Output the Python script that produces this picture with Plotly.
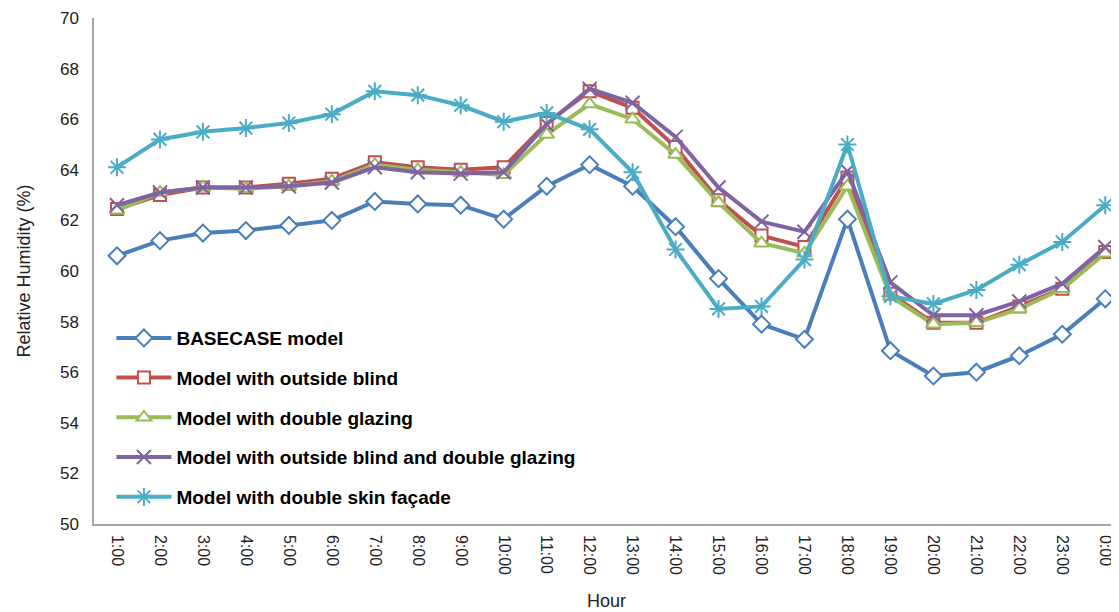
import plotly.graph_objects as go

hours = ["1:00", "2:00", "3:00", "4:00", "5:00", "6:00", "7:00", "8:00", "9:00", "10:00",
         "11:00", "12:00", "13:00", "14:00", "15:00", "16:00", "17:00", "18:00", "19:00",
         "20:00", "21:00", "22:00", "23:00", "0:00"]

basecase = [60.6, 61.2, 61.5, 61.6, 61.8, 62.0, 62.75, 62.65, 62.6, 62.05, 63.35, 64.2,
            63.35, 61.75, 59.7, 57.9, 57.3, 62.05, 56.85, 55.85, 56.0, 56.65, 57.5, 58.9]
outside_blind = [62.45, 63.0, 63.3, 63.3, 63.45, 63.65, 64.3, 64.1, 64.0, 64.1, 65.85, 67.1,
                 66.45, 64.9, 62.8, 61.4, 60.95, 63.7, 59.1, 57.95, 57.95, 58.6, 59.3, 60.75]
double_glazing = [62.4, 63.1, 63.3, 63.25, 63.35, 63.55, 64.2, 64.0, 63.9, 63.8, 65.4, 66.6,
                  66.0, 64.6, 62.7, 61.1, 60.7, 63.35, 59.0, 57.9, 57.95, 58.5, 59.3, 60.7]
blind_and_glazing = [62.6, 63.1, 63.3, 63.3, 63.35, 63.5, 64.1, 63.9, 63.85, 63.9, 65.8, 67.2,
                     66.65, 65.3, 63.3, 61.95, 61.55, 63.95, 59.55, 58.25, 58.25, 58.8, 59.5, 60.95]
double_skin = [64.1, 65.2, 65.5, 65.65, 65.85, 66.2, 67.1, 66.95, 66.55, 65.9, 66.25, 65.6,
               63.9, 60.85, 58.5, 58.6, 60.45, 65.0, 59.0, 58.7, 59.25, 60.25, 61.15, 62.6]

series = [
    ("BASECASE model", basecase, "#4A7EBB", "diamond", 13),
    ("Model with outside blind", outside_blind, "#C0504D", "square", 12),
    ("Model with double glazing", double_glazing, "#9BBB59", "triangle-up", 13),
    ("Model with outside blind and double glazing", blind_and_glazing, "#8064A2", "x-thin", 14),
    ("Model with double skin façade", double_skin, "#4BACC6", "asterisk", 15),
]

fig = go.Figure()
for i, (name, vals, col, sym, size) in enumerate(series):
    open_sym = sym in ("x-thin", "asterisk")
    fig.add_trace(go.Scatter(
        x=list(range(len(hours))), y=vals, name=name, mode="lines+markers",
        legendgroup=f"g{i}",
        line=dict(color=col, width=4),
        marker=dict(symbol=sym, size=size,
                    color=col if open_sym else "white",
                    line=dict(color=col, width=2)),
        cliponaxis=False,
    ))

fig.update_layout(
    width=1111, height=604,
    margin=dict(l=86, r=0, t=10, b=88, autoexpand=False),
    paper_bgcolor="white", plot_bgcolor="white",
    font=dict(family="Liberation Sans, Arial, sans-serif", color="#222"),
    showlegend=True,
    legend=dict(x=0.017, y=0.405, xanchor="left", yanchor="top",
                font=dict(size=19, color="black", family="Liberation Sans, Arial, sans-serif", weight="bold"),
                traceorder="grouped", tracegroupgap=12, itemwidth=55,
                bgcolor="rgba(0,0,0,0)"),
    xaxis=dict(
        tickmode="array", tickvals=list(range(len(hours))), ticktext=hours,
        range=[-0.535, 23.32], tickangle=90, tickfont=dict(size=16, color="#222"),
        showgrid=False, zeroline=False, showline=True, linecolor="#A6A6A6", linewidth=1.5,
        ticks="", automargin=False, ticklabelstandoff=6,
        title=dict(text="Hour", font=dict(size=18, color="#222"), standoff=20),
    ),
    yaxis=dict(
        range=[50, 70], dtick=2, tickfont=dict(size=17, color="#222"),
        showgrid=False, zeroline=False, showline=True, linecolor="#A6A6A6", linewidth=1.5,
        ticks="", ticklabelstandoff=10, automargin=False,
        title=dict(text="Relative Humidity (%)", font=dict(size=18, color="#222"), standoff=25),
    ),
)

fig.write_html("out.html")
